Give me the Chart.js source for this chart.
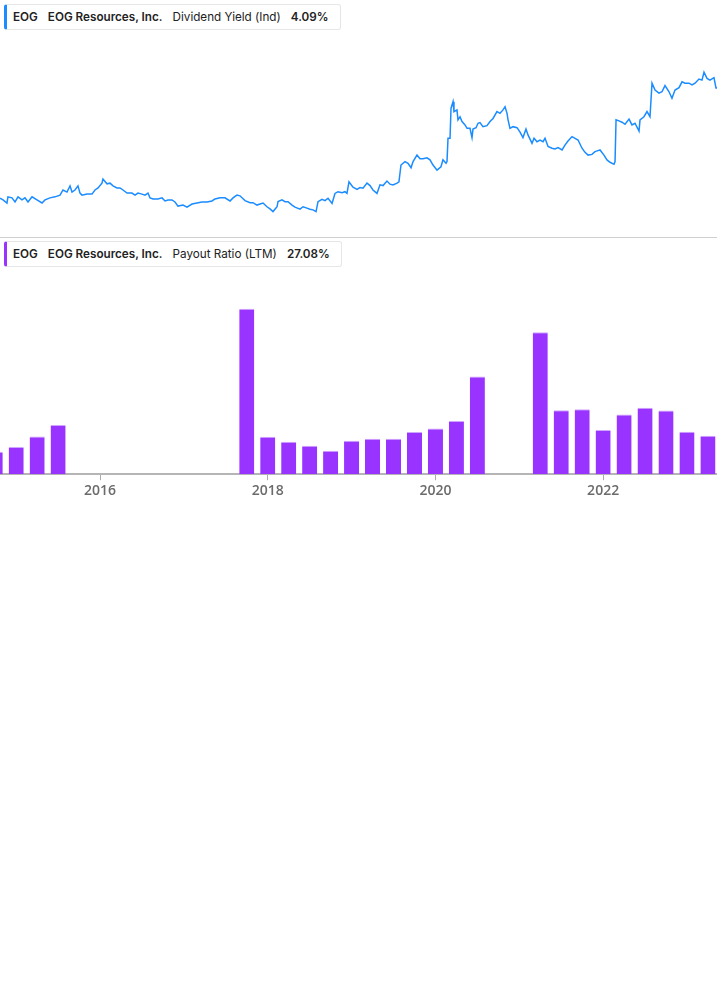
<!DOCTYPE html>
<html>
<head>
<meta charset="utf-8">
<script src="https://cdn.jsdelivr.net/npm/chart.js@4.4.0/dist/chart.umd.min.js"></script>
<style>
    body { margin: 0; background: #fff; font-family: Inter, "Noto Sans", sans-serif; }
    #wrap { position: relative; width: 717px; height: 1005px; overflow: hidden; }
    .pane { position: absolute; left: 0; width: 717px; }
    .legend {
        position: absolute; left: 4px; height: 26px; box-sizing: border-box;
        border: 1px solid #e6e6e6; border-left: 3px solid; border-radius: 3px;
        background: #fff; font-size: 11.7px; color: #222; line-height: 24px;
        padding: 0 11px 0 6px; white-space: nowrap; z-index: 2;
    }
    .legend b { font-weight: 600; }
    .legend span { margin-right: 10px; }
    .legend span:last-child { margin-right: 0; }
    #divider { position: absolute; left: 0; top: 237px; width: 717px; height: 1px; background: #cfcfcf; }
</style>
</head>
<body>
<div id="wrap">
    <div class="legend" style="top:4px; border-left-color:#1a8cff;">
        <span><b>EOG</b></span><span><b>EOG Resources, Inc.</b></span><span>Dividend Yield (Ind)</span><span><b>4.09%</b></span>
    </div>
    <div class="pane" style="top:0; height:237px;"><canvas id="yieldChart"></canvas></div>
    <div id="divider"></div>
    <div class="legend" style="top:241px; border-left-color:#9933ff;">
        <span><b>EOG</b></span><span><b>EOG Resources, Inc.</b></span><span>Payout Ratio (LTM)</span><span><b>27.08%</b></span>
    </div>
    <div class="pane" style="top:237px; height:268px;"><canvas id="payoutChart"></canvas></div>
</div>
<script>
// dados
const yieldYears = [
    2014.807, 2014.843, 2014.890, 2014.902, 2014.950, 2014.986, 2015.022, 2015.069, 2015.105, 2015.141,
    2015.189, 2015.248, 2015.308, 2015.344, 2015.403, 2015.463, 2015.523, 2015.558, 2015.606, 2015.642,
    2015.666, 2015.701, 2015.737, 2015.761, 2015.785, 2015.845, 2015.904, 2015.940, 2015.976, 2016.023,
    2016.035, 2016.083, 2016.119, 2016.155, 2016.202, 2016.238, 2016.274, 2016.322, 2016.381, 2016.417,
    2016.453, 2016.500, 2016.536, 2016.572, 2016.596, 2016.632, 2016.691, 2016.739, 2016.775, 2016.811,
    2016.858, 2016.894, 2016.930, 2016.990, 2017.037, 2017.097, 2017.156, 2017.216, 2017.276, 2017.335,
    2017.371, 2017.431, 2017.490, 2017.550, 2017.586, 2017.633, 2017.669, 2017.729, 2017.789, 2017.824,
    2017.872, 2017.908, 2017.944, 2017.991, 2018.027, 2018.063, 2018.111, 2018.123, 2018.170, 2018.206,
    2018.242, 2018.290, 2018.325, 2018.385, 2018.421, 2018.468, 2018.504, 2018.540, 2018.576, 2018.600,
    2018.647, 2018.683, 2018.719, 2018.767, 2018.802, 2018.838, 2018.886, 2018.921, 2018.945, 2018.969,
    2019.017, 2019.065, 2019.100, 2019.136, 2019.184, 2019.220, 2019.255, 2019.303, 2019.339, 2019.375,
    2019.422, 2019.458, 2019.494, 2019.542, 2019.565, 2019.589, 2019.637, 2019.673, 2019.709, 2019.733,
    2019.780, 2019.816, 2019.852, 2019.899, 2019.935, 2019.971, 2020.019, 2020.066, 2020.090, 2020.126,
    2020.138, 2020.150, 2020.174, 2020.186, 2020.210, 2020.221, 2020.257, 2020.269, 2020.293, 2020.317,
    2020.353, 2020.377, 2020.412, 2020.436, 2020.448, 2020.484, 2020.508, 2020.531, 2020.567, 2020.615,
    2020.651, 2020.687, 2020.734, 2020.770, 2020.806, 2020.830, 2020.854, 2020.866, 2020.889, 2020.925,
    2020.973, 2021.009, 2021.044, 2021.080, 2021.104, 2021.152, 2021.176, 2021.211, 2021.247, 2021.283,
    2021.307, 2021.343, 2021.390, 2021.426, 2021.462, 2021.510, 2021.545, 2021.581, 2021.629, 2021.665,
    2021.701, 2021.748, 2021.784, 2021.820, 2021.867, 2021.903, 2021.939, 2021.963, 2022.010, 2022.046,
    2022.082, 2022.130, 2022.142, 2022.154, 2022.189, 2022.225, 2022.261, 2022.309, 2022.344, 2022.380,
    2022.428, 2022.440, 2022.487, 2022.523, 2022.559, 2022.583, 2022.619, 2022.666, 2022.702, 2022.738,
    2022.786, 2022.821, 2022.857, 2022.905, 2022.941, 2022.976, 2023.024, 2023.060, 2023.096, 2023.143,
    2023.179, 2023.203, 2023.239, 2023.274, 2023.322, 2023.346, 2023.358
];
const yieldValues = [
    0.87, 0.82, 0.73, 0.91, 0.88, 0.76, 0.91, 0.82, 0.88, 0.76,
    0.91, 0.82, 0.73, 0.82, 0.88, 0.91, 0.96, 1.11, 1.05, 1.23,
    1.05, 1.11, 1.23, 1.02, 0.96, 0.99, 0.99, 1.11, 1.17, 1.31,
    1.43, 1.29, 1.31, 1.23, 1.17, 1.17, 1.11, 1.02, 1.02, 0.96,
    1.02, 0.99, 0.96, 1.02, 0.88, 0.85, 0.85, 0.88, 0.79, 0.82,
    0.82, 0.76, 0.64, 0.67, 0.61, 0.70, 0.73, 0.76, 0.76, 0.79,
    0.85, 0.88, 0.88, 0.79, 0.88, 0.96, 0.94, 0.80, 0.74, 0.74,
    0.67, 0.70, 0.73, 0.62, 0.56, 0.48, 0.62, 0.77, 0.82, 0.77,
    0.77, 0.67, 0.61, 0.55, 0.62, 0.58, 0.55, 0.53, 0.48, 0.77,
    0.84, 0.80, 0.87, 0.72, 1.01, 1.06, 1.03, 1.06, 1.01, 1.35,
    1.19, 1.13, 1.18, 1.16, 1.31, 1.24, 1.11, 1.01, 1.26, 1.24,
    1.37, 1.28, 1.26, 1.31, 1.35, 1.84, 1.94, 1.89, 1.76, 1.94,
    2.13, 2.02, 2.02, 2.05, 1.99, 1.84, 1.69, 1.79, 1.99, 1.89,
    1.94, 2.62, 2.62, 3.50, 3.69, 3.40, 3.45, 3.16, 3.25, 3.11,
    3.01, 2.91, 2.91, 2.64, 2.89, 2.93, 3.06, 3.08, 2.96, 2.99,
    3.11, 3.20, 3.40, 3.35, 3.45, 3.54, 3.35, 3.16, 2.91, 2.96,
    2.93, 2.80, 2.64, 2.89, 2.72, 2.47, 2.62, 2.52, 2.57, 2.52,
    2.62, 2.38, 2.33, 2.31, 2.35, 2.28, 2.42, 2.54, 2.67, 2.62,
    2.57, 2.33, 2.21, 2.13, 2.15, 2.23, 2.26, 2.28, 2.13, 1.99,
    1.92, 1.86, 1.94, 3.16, 3.13, 3.09, 3.03, 3.18, 3.01, 3.06,
    2.83, 3.16, 3.25, 3.40, 3.25, 4.23, 4.03, 3.94, 3.98, 4.16,
    3.98, 3.79, 4.03, 4.10, 4.27, 4.23, 4.23, 4.18, 4.23, 4.35,
    4.32, 4.55, 4.37, 4.32, 4.39, 4.09, 4.09
];

const payoutQuarters = ['2014-10', '2015-01', '2015-04', '2015-07', '2017-10', '2018-01', '2018-04', '2018-07',
    '2018-10', '2019-01', '2019-04', '2019-07', '2019-10', '2020-01', '2020-04', '2020-07', '2021-04',
    '2021-07', '2021-10', '2022-01', '2022-04', '2022-07', '2022-10', '2023-01', '2023-04'];
const payoutValues = [15.8, 19.1, 26.6, 34.7, 116.4, 26.4, 22.8, 20.0, 16.5, 23.5, 25.0, 25.0, 29.7,
    32.2, 37.5, 68.8, 99.9, 45.0, 45.7, 31.1, 42.1, 46.7, 44.8, 29.9, 27.08];

const yearTicks = [2016, 2018, 2020, 2022];
const xMin = 2014.807;
const xMax = 2023.358;

function quarterToYear(q) {
    const [y, m] = q.split('-').map(Number);
    return y + (m - 1) / 12;
}

// ========== GRÁFICO: DIVIDEND YIELD ==========
new Chart(document.getElementById('yieldChart'), {
    type: 'line',
    data: {
        datasets: [{
            data: yieldYears.map((x, i) => ({ x: x, y: yieldValues[i] })),
            borderColor: '#1a8cff',
            borderWidth: 1.5,
            pointRadius: 0,
            tension: 0
        }]
    },
    options: {
        responsive: true,
        maintainAspectRatio: false,
        animation: false,
        layout: { padding: { top: 32, bottom: 9, left: 0, right: 0 } },
        plugins: { legend: { display: false }, tooltip: { enabled: false } },
        scales: {
            x: { type: 'linear', min: xMin, max: xMax, display: false },
            y: { min: 0, max: 5.725, display: false }
        }
    }
});

// ========== GRÁFICO: PAYOUT RATIO ==========
new Chart(document.getElementById('payoutChart'), {
    type: 'bar',
    data: {
        datasets: [{
            data: payoutQuarters.map((q, i) => ({ x: quarterToYear(q), y: payoutValues[i] })),
            backgroundColor: '#9933ff',
            borderColor: '#cfa6ff',
            borderWidth: { top: 1, left: 0, right: 0, bottom: 0 },
            barPercentage: 0.72,
            categoryPercentage: 1
        }]
    },
    options: {
        responsive: true,
        maintainAspectRatio: false,
        animation: false,
        layout: { padding: { top: 38, bottom: 4, left: 0, right: 0 } },
        plugins: { legend: { display: false }, tooltip: { enabled: false } },
        scales: {
            x: {
                type: 'linear',
                min: xMin,
                max: xMax,
                offset: false,
                afterBuildTicks: axis => { axis.ticks = yearTicks.map(v => ({ value: v })); },
                grid: { display: true, drawOnChartArea: false, drawTicks: true, tickLength: 6, color: '#aaa', lineWidth: 1, offset: false },
                border: { display: true, color: '#b5b5b5', width: 2 },
                ticks: {
                    padding: 2,
                    color: '#6b6b6b',
                    font: { family: '"Open Sans", sans-serif', size: 14, weight: '600' },
                    callback: v => String(v),
                    maxRotation: 0
                }
            },
            y: { min: 0, max: 140.2, display: false }
        }
    }
});
</script>
</body>
</html>
